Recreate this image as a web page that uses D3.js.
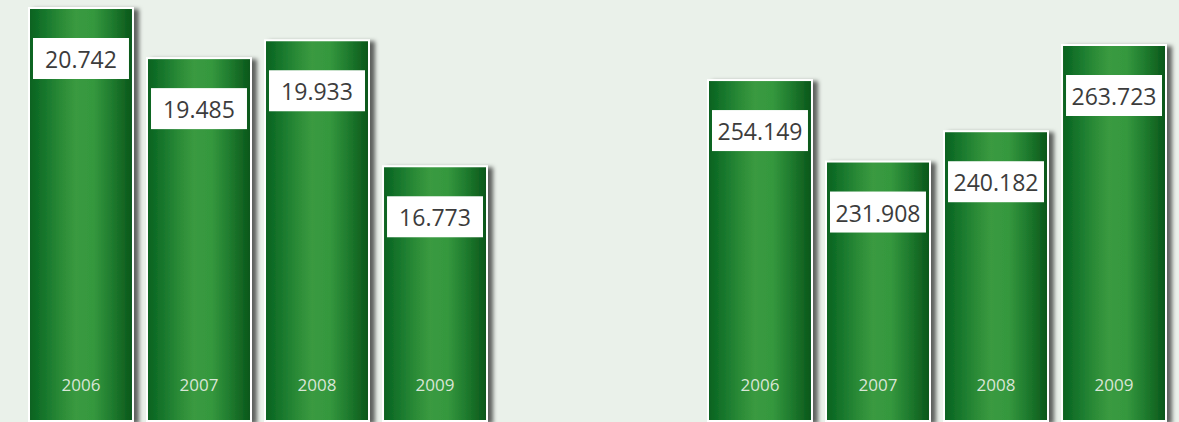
<!DOCTYPE html>
<html lang="de">
  <head>
    <meta charset="UTF-8" />
    <title>Bars</title>
    <style>
      body { margin: 0; background: #eaf1ea; }
      svg { display: block; font-family: "Open Sans", sans-serif; }
    </style>
  </head>
  <body>
    <div id="chart"></div>

    <script src="https://cdn.jsdelivr.net/npm/d3@7"></script>
    <script>

      // data
      var years = ["2006", "2007", "2008", "2009"];
      var leftValues = [20742, 19485, 19933, 16773];
      var rightValues = [254149, 231908, 240182, 263723];

      var w = 1179, h = 422;
      var base = 421;

      var de = d3.formatLocale({ decimal: ",", thousands: ".", grouping: [3], currency: ["", " €"] });
      var fmt = de.format(",d");

      var svg = d3.select("#chart").append("svg")
        .attr("width", w)
        .attr("height", h);

      var defs = svg.append("defs");

      var grad = defs.append("linearGradient")
        .attr("id", "barGrad")
        .attr("x1", "0%").attr("x2", "100%")
        .attr("y1", "0%").attr("y2", "0%");
      [
        [0, "#0b611f"], [0.12, "#13722a"], [0.3, "#2a8a36"], [0.45, "#3a9a40"],
        [0.62, "#35983e"], [0.8, "#1f7b2e"], [1, "#095519"]
      ].forEach(function(s) {
        grad.append("stop").attr("offset", s[0]).attr("stop-color", s[1]);
      });

      var shadow = defs.append("filter")
        .attr("id", "shadow")
        .attr("x", "-20%").attr("y", "-20%")
        .attr("width", "150%").attr("height", "150%");
      shadow.append("feDropShadow")
        .attr("dx", 5).attr("dy", 2)
        .attr("stdDeviation", 2.2)
        .attr("flood-color", "#000")
        .attr("flood-opacity", 0.6);

      // each group has its own scale
      var groups = [
        {
          values: leftValues,
          x: d3.scaleBand().domain(years).range([28, 488]).paddingInner(0.102),
          y: d3.scaleLinear().domain([10360, 20742]).range([base, 7])
        },
        {
          values: rightValues,
          x: d3.scaleBand().domain(years).range([707, 1167]).paddingInner(0.102),
          y: d3.scaleLinear().domain([160800, 263723]).range([base, 44])
        }
      ];

      groups.forEach(function(grp) {
        var data = years.map(function(y, i) { return { year: y, value: grp.values[i] }; });
        var bw = grp.x.bandwidth();

        var g = svg.append("g");

        var bar = g.selectAll(".bar")
          .data(data)
          .enter()
          .append("g")
          .attr("class", "bar")
          .attr("transform", function(d) { return "translate(" + grp.x(d.year) + ",0)"; });

        bar.append("rect")
          .attr("x", 1)
          .attr("y", function(d) { return grp.y(d.value) + 1; })
          .attr("width", bw - 2)
          .attr("height", function(d) { return base - grp.y(d.value) - 1; })
          .attr("fill", "url(#barGrad)")
          .attr("stroke", "#fff")
          .attr("stroke-width", 2)
          .attr("filter", "url(#shadow)");

        // value boxes
        bar.append("rect")
          .attr("x", 5)
          .attr("y", function(d) { return grp.y(d.value) + 31; })
          .attr("width", bw - 10)
          .attr("height", 41)
          .attr("fill", "#fff");

        bar.append("text")
          .attr("x", bw / 2)
          .attr("y", function(d) { return grp.y(d.value) + 52; })
          .attr("text-anchor", "middle")
          .attr("dominant-baseline", "central")
          .attr("font-size", 23)
          .attr("fill", "#3c3c3c")
          .text(function(d) { return fmt(d.value); });

        // year labels inside bars
        bar.append("text")
          .attr("x", bw / 2)
          .attr("y", 391)
          .attr("text-anchor", "middle")
          .attr("font-size", 17)
          .attr("fill", "#d9e6d6")
          .text(function(d) { return d.year; });
      });

    </script>
  </body>
</html>
